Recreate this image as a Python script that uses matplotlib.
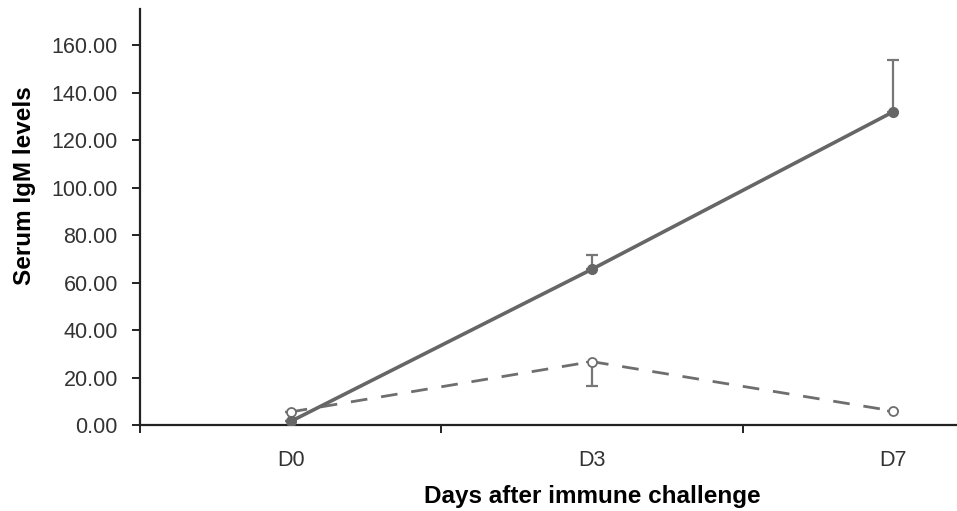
import numpy as np
import matplotlib.pyplot as plt
from matplotlib.ticker import FixedLocator

plt.rcParams['font.family'] = ['Liberation Sans', 'DejaVu Sans']

days = ['D0', 'D3', 'D7']
solid_vals = [1.5, 65.6, 131.9]
solid_err_up = [0.0, 6.0, 21.7]
dashed_vals = [5.5, 26.7, 5.9]
dashed_err_low = [0.0, 10.3, 0.0]

x = np.arange(len(days))

fig = plt.figure(figsize=(9.57, 5.11), dpi=100)
ax = fig.add_axes([140/957, 1-425/511, (957-140)/957, (425-9)/511])

# error bars (one-sided, as in the source)
ax.errorbar(x, solid_vals, yerr=[np.zeros(3), solid_err_up], fmt='none',
            ecolor='#777777', elinewidth=1.6, capsize=4, capthick=1.6, zorder=2)
ax.errorbar(x, dashed_vals, yerr=[dashed_err_low, np.zeros(3)], fmt='none',
            ecolor='#777777', elinewidth=1.6, capsize=4, capthick=1.6, zorder=2)

ax.plot(x, dashed_vals, color='#6e6e6e', lw=2.0, dashes=(6, 5),
        marker='o', ms=6.5, mfc='white', mec='#6e6e6e', mew=1.3, zorder=3)
ax.plot(x, solid_vals, color='#666666', lw=2.6, marker='o', ms=7,
        mfc='#666666', mec='#666666', zorder=4)

ax.set_xlim(-0.5, (957-289)/302.0)
ax.set_ylim(0, 175.2)

ax.set_yticks(np.arange(0, 161, 20))
ax.set_yticklabels(['%.2f' % v for v in np.arange(0, 161, 20)])
ax.set_xticks(x)
ax.set_xticklabels(days)
ax.xaxis.set_minor_locator(FixedLocator([-0.5, 0.5, 1.5, 2.5]))

ax.tick_params(axis='y', direction='out', length=6, width=1.4, color='#222222',
               labelsize=15.5, labelcolor='#333333', pad=10)
ax.tick_params(axis='x', which='major', length=0, labelsize=15.5,
               labelcolor='#333333', pad=18)
ax.tick_params(axis='x', which='minor', direction='out', length=6, width=1.4,
               color='#222222')

for s in ['top', 'right']:
    ax.spines[s].set_visible(False)
for s in ['left', 'bottom']:
    ax.spines[s].set_linewidth(1.6)
    ax.spines[s].set_color('#222222')

ax.set_ylabel('Serum IgM levels', fontsize=17.5, fontweight='bold')
ax.set_xlabel('Days after immune challenge', fontsize=17.5, fontweight='bold')
ax.yaxis.set_label_coords((36-140)/817, (425-186)/416)
ax.xaxis.set_label_coords((592-140)/817, (425-485)/416)

fig.savefig('out.png', dpi=100)
